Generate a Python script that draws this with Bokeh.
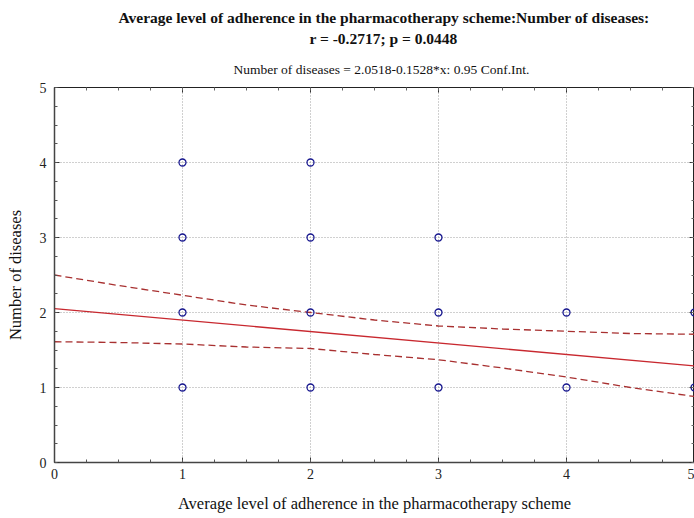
from bokeh.plotting import figure
from bokeh.models import Range1d, LinearAxis, Title, FixedTicker, CustomJSTickFormatter
from bokeh.embed import file_html
from bokeh.resources import INLINE

# Data
adherence = [1, 1, 1, 1, 2, 2, 2, 2, 3, 3, 3, 4, 4, 5, 5]
diseases = [1, 2, 3, 4, 1, 2, 3, 4, 1, 2, 3, 1, 2, 1, 2]

fit_x = [0, 5]
fit_y = [2.0518, 2.0518 - 0.1528 * 5]

ci_x = [0, 0.5, 1, 1.5, 2, 2.5, 3, 3.5, 4, 4.5, 5]
ci_upper = [2.50, 2.36, 2.23, 2.10, 2.00, 1.90, 1.82, 1.78, 1.75, 1.72, 1.71]
ci_lower = [1.61, 1.60, 1.58, 1.54, 1.52, 1.44, 1.37, 1.26, 1.14, 1.00, 0.88]

x_ticks = [0, 1, 2, 3, 4, 5]
y_ticks = [0, 1, 2, 3, 4, 5]
minor = [i * 0.25 for i in range(21)]

title1 = "Average level of adherence in the pharmacotherapy scheme:Number of diseases:"
title2 = "r = -0.2717; p = 0.0448"
subtitle = "Number of diseases  = 2.0518-0.1528*x: 0.95 Conf.Int."
x_label = "Average level of adherence in the pharmacotherapy scheme"
y_label = "Number of diseases"

FONT = "Liberation Serif"

p = figure(width=694, height=518, output_backend="svg", toolbar_location=None,
           x_range=Range1d(0, 5), y_range=Range1d(0, 5),
           min_border_left=54, min_border_right=0, min_border_top=87, min_border_bottom=56)
p.background_fill_color = "white"
p.border_fill_color = "white"
p.outline_line_color = "#222222"
p.outline_line_width = 1

for ax in [p.xaxis[0], p.yaxis[0]]:
    ax.axis_line_color = "#444444"
    ax.axis_line_width = 1.5
    ax.major_tick_in = 5
    ax.major_tick_out = 0
    ax.minor_tick_in = 3
    ax.minor_tick_out = 0
    ax.major_tick_line_color = "#333333"
    ax.minor_tick_line_color = "#555555"
    ax.major_label_text_font = FONT
    ax.major_label_text_font_size = "14px"
    ax.major_label_text_color = "#222222"
    ax.axis_label_text_font = FONT
    ax.axis_label_text_font_size = "16.5px"
    ax.axis_label_text_font_style = "normal"
    ax.axis_label_text_color = "#111111"

p.xaxis.ticker = FixedTicker(ticks=x_ticks, minor_ticks=minor)
p.yaxis.ticker = FixedTicker(ticks=y_ticks, minor_ticks=minor)
p.xaxis.axis_label = x_label
p.yaxis.axis_label = y_label
p.xaxis.major_label_standoff = 6
p.xaxis.axis_label_standoff = 12
p.yaxis.major_label_standoff = 8
p.yaxis.axis_label_standoff = 12

for loc in ["right", "above"]:
    ax = LinearAxis(ticker=FixedTicker(ticks=x_ticks, minor_ticks=minor),
                    formatter=CustomJSTickFormatter(code="return ''"))
    ax.major_label_standoff = 0
    ax.axis_line_color = "#222222"
    ax.major_tick_in = 5
    ax.major_tick_out = 0
    ax.minor_tick_in = 3
    ax.minor_tick_out = 0
    ax.major_tick_line_color = "#333333"
    ax.minor_tick_line_color = "#666666"
    p.add_layout(ax, loc)

p.xgrid.ticker = FixedTicker(ticks=x_ticks)
p.ygrid.ticker = FixedTicker(ticks=y_ticks)
p.grid.grid_line_color = "#a0a0a0"
p.grid.grid_line_dash = "1 2"
p.grid.grid_line_width = 1

p.line(ci_x, ci_upper, line_color="#a83030", line_width=1.3, line_dash="7 4")
p.line(ci_x, ci_lower, line_color="#a83030", line_width=1.3, line_dash="7 4")
p.line(fit_x, fit_y, line_color="#c8282f", line_width=1.4)
p.scatter(adherence, diseases, marker="circle", size=7, fill_color=None,
          line_color="#1a1a90", line_width=1.3)

for txt, style, size, sb, off in [(subtitle, "normal", "13.5px", 22, 179),
                                  (title2, "bold", "15.5px", 4, 255),
                                  (title1, "bold", "15.5px", 0, 64)]:
    p.add_layout(Title(text=txt, align="left", offset=off, text_font=FONT,
                       text_font_size=size, text_font_style=style,
                       text_color="#111111", standoff=sb), "above")

open("out.html", "w").write(file_html(p, INLINE))
